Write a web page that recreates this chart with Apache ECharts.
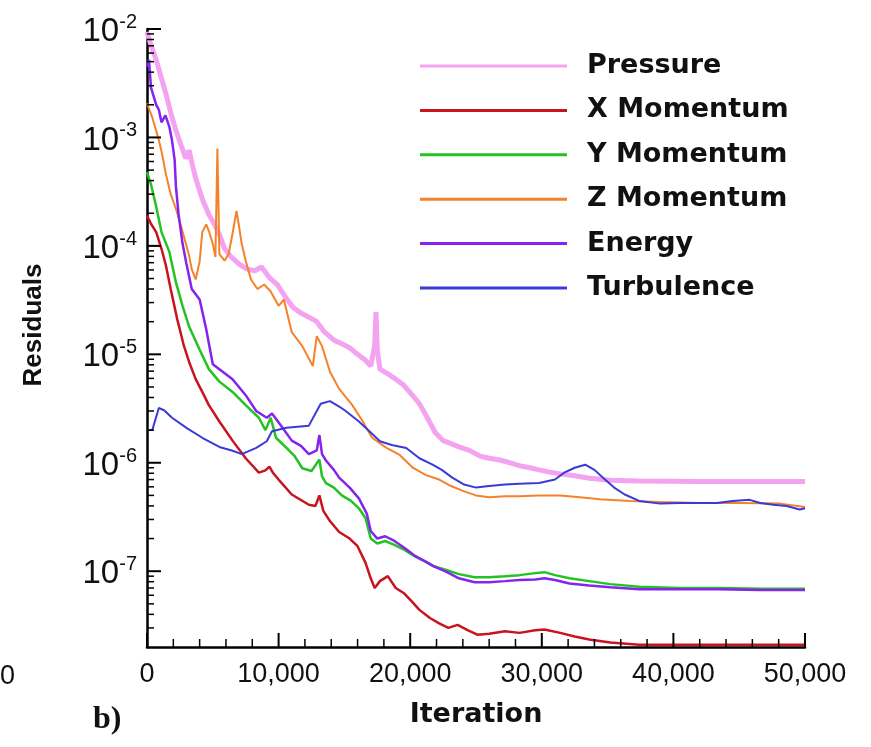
<!DOCTYPE html>
<html><head><meta charset="utf-8">
<script src="https://cdn.jsdelivr.net/npm/echarts@6/dist/echarts.min.js"></script>
<style>html,body{margin:0;padding:0;background:#fff;}#c{width:871px;height:747px;}</style>
</head><body><div id="c"></div>
<script>
const seriesNames = ['Pressure', 'X Momentum', 'Y Momentum', 'Z Momentum', 'Energy', 'Turbulence'];
const seriesColors = ['#f3a3ef', '#c8141e', '#22c322', '#f5822a', '#8424ee', '#3a3ad6'];

const pressure = [[0,9.4e-3],[300,7.1e-3],[700,5.2e-3],[1100,3.5e-3],[1450,2.5e-3],[1800,1.7e-3],[2200,1.16e-3],[2600,8.4e-4],[2950,6.4e-4],[3200,7.6e-4],[3450,5.6e-4],[3700,4.2e-4],[4200,2.7e-4],[4700,1.95e-4],[5100,1.6e-4],[5500,1.28e-4],[5900,9.4e-5],[6400,7.9e-5],[7000,6.8e-5],[7600,6.1e-5],[8200,5.9e-5],[8700,6.4e-5],[9300,5.1e-5],[9900,4.4e-5],[10500,3.4e-5],[11100,2.7e-5],[11700,2.4e-5],[12300,2.2e-5],[12900,2e-5],[13500,1.6e-5],[14200,1.35e-5],[14800,1.25e-5],[15400,1.15e-5],[16000,1e-5],[16600,8.8e-6],[17000,7.8e-6],[17300,1.2e-5],[17400,2.45e-5],[17500,1.1e-5],[17700,7.3e-6],[18300,6.6e-6],[18900,5.9e-6],[19500,5.2e-6],[20100,4.3e-6],[20700,3.5e-6],[21300,2.6e-6],[21900,1.9e-6],[22500,1.6e-6],[23100,1.5e-6],[23700,1.4e-6],[24500,1.3e-6],[25300,1.15e-6],[26000,1.1e-6],[26800,1.06e-6],[27600,1e-6],[28300,9.4e-7],[29100,9e-7],[29800,8.6e-7],[30600,8.2e-7],[31400,7.9e-7],[32500,7.6e-7],[33600,7.2e-7],[35200,6.9e-7],[37400,6.8e-7],[42000,6.7e-7],[46600,6.7e-7],[50000,6.7e-7]];

const xMomentum = [[0,1.9e-4],[300,1.6e-4],[700,1.34e-4],[1100,9.4e-5],[1450,6.5e-5],[1800,4e-5],[2300,2.1e-5],[2800,1.2e-5],[3200,8.5e-6],[3700,5.9e-6],[4200,4.5e-6],[4700,3.4e-6],[5500,2.4e-6],[6500,1.6e-6],[7500,1.1e-6],[8500,8.1e-7],[9000,8.5e-7],[9300,9.2e-7],[9600,8e-7],[10000,7e-7],[11000,5.1e-7],[12300,4.1e-7],[12800,4e-7],[13100,5e-7],[13400,3.6e-7],[13900,2.9e-7],[14600,2.3e-7],[15400,2e-7],[16000,1.7e-7],[16600,1.2e-7],[17000,8.6e-8],[17300,7e-8],[17700,8.1e-8],[18300,9e-8],[18900,7e-8],[19500,6.3e-8],[20100,5.3e-8],[20700,4.4e-8],[21500,3.7e-8],[22200,3.3e-8],[22900,3e-8],[23600,3.2e-8],[24400,2.85e-8],[25100,2.6e-8],[26000,2.65e-8],[27200,2.8e-8],[28300,2.7e-8],[29500,2.85e-8],[30200,2.9e-8],[31400,2.7e-8],[32500,2.5e-8],[33600,2.35e-8],[35200,2.2e-8],[37400,2.1e-8],[42000,2.1e-8],[46600,2.1e-8],[50000,2.1e-8]];

const yMomentum = [[0,4.8e-4],[300,3.7e-4],[700,2.3e-4],[1100,1.34e-4],[1700,8.8e-5],[2200,4.6e-5],[2700,2.8e-5],[3200,1.8e-5],[3500,1.5e-5],[4000,1.1e-5],[4700,7.3e-6],[5500,5.6e-6],[6500,4.5e-6],[7500,3.4e-6],[8500,2.6e-6],[9000,2e-6],[9400,2.6e-6],[9800,1.7e-6],[10600,1.37e-6],[11200,1.16e-6],[11800,8.9e-7],[12500,8.4e-7],[13100,1.07e-6],[13300,7.5e-7],[13600,6.5e-7],[14200,5.9e-7],[14800,5e-7],[15500,4.45e-7],[16100,3.8e-7],[16600,3.1e-7],[17000,2e-7],[17500,1.8e-7],[18100,1.9e-7],[18800,1.75e-7],[19600,1.56e-7],[20300,1.38e-7],[21100,1.24e-7],[21800,1.11e-7],[22800,1.02e-7],[23700,9.4e-8],[24900,8.8e-8],[26000,8.8e-8],[27200,9e-8],[28300,9.2e-8],[29500,9.6e-8],[30200,9.8e-8],[31000,9.2e-8],[32100,8.6e-8],[33600,8.1e-8],[35200,7.6e-8],[37400,7.2e-8],[40500,7e-8],[43500,7e-8],[46600,6.9e-8],[50000,6.9e-8]];

const zMomentum = [[0,2.06e-3],[400,1.53e-3],[700,1.15e-3],[900,9.4e-4],[1100,7.5e-4],[1450,4.5e-4],[1800,3e-4],[2200,2.2e-4],[2600,1.5e-4],[3000,1e-4],[3200,8.1e-5],[3400,6.1e-5],[3700,4.9e-5],[4000,7.2e-5],[4200,1.34e-4],[4500,1.58e-4],[4700,1.37e-4],[5000,1.04e-4],[5200,7.9e-5],[5350,7.9e-4],[5500,8.4e-5],[5900,7.3e-5],[6200,8.4e-5],[6500,1.3e-4],[6800,2.1e-4],[7000,1.5e-4],[7200,1.04e-4],[7500,7.3e-5],[7900,4.9e-5],[8400,4e-5],[8900,4.4e-5],[9400,3.8e-5],[10000,2.8e-5],[10400,3.2e-5],[11000,1.6e-5],[11800,1.19e-5],[12600,7.8e-6],[12900,1.47e-5],[13300,1.19e-5],[13900,6.9e-6],[14600,4.8e-6],[15600,3.4e-6],[16400,2.4e-6],[17100,1.7e-6],[18200,1.37e-6],[19200,1.18e-6],[20200,9e-7],[21200,7.7e-7],[22200,7e-7],[23100,6.1e-7],[24000,5.5e-7],[25000,5e-7],[26000,4.8e-7],[27200,4.9e-7],[28300,4.9e-7],[29800,5e-7],[31400,5e-7],[32900,4.8e-7],[34400,4.6e-7],[36700,4.45e-7],[39000,4.35e-7],[42000,4.26e-7],[45000,4.26e-7],[48100,4.2e-7],[50000,3.9e-7]];

const energy = [[0,4.5e-3],[150,5.2e-3],[300,2.9e-3],[700,2e-3],[900,1.8e-3],[1100,1.38e-3],[1400,1.6e-3],[1700,1.25e-3],[1900,9.4e-4],[2100,6.2e-4],[2200,3.5e-4],[2400,1.95e-4],[2700,1.05e-4],[3000,6.8e-5],[3400,4e-5],[4000,3.2e-5],[4500,1.7e-5],[5000,8.1e-6],[5500,7.3e-6],[6500,5.9e-6],[7500,4.2e-6],[8300,3e-6],[9100,2.6e-6],[9500,2.85e-6],[10300,2.1e-6],[11000,1.6e-6],[11700,1.43e-6],[12300,1.2e-6],[12900,1.3e-6],[13100,1.8e-6],[13300,1.2e-6],[13600,1.05e-6],[14200,8.6e-7],[14600,7.3e-7],[15400,5.9e-7],[16100,4.7e-7],[16700,3.4e-7],[17000,2.35e-7],[17500,2e-7],[18100,2.1e-7],[18800,1.9e-7],[19600,1.63e-7],[20300,1.4e-7],[21100,1.24e-7],[21800,1.11e-7],[22800,9.8e-8],[23700,8.6e-8],[24900,7.9e-8],[26000,7.9e-8],[27200,8.1e-8],[28300,8.3e-8],[29500,8.4e-8],[30200,8.6e-8],[31000,8.3e-8],[32100,7.7e-8],[33600,7.4e-8],[35200,7.1e-8],[37400,6.8e-8],[40500,6.8e-8],[43500,6.8e-8],[46600,6.7e-8],[50000,6.7e-8]];

const turbulence = [[0,2e-6],[400,2e-6],[900,3.2e-6],[1300,3.05e-6],[1900,2.6e-6],[3000,2.1e-6],[4200,1.7e-6],[5500,1.4e-6],[6500,1.29e-6],[7200,1.2e-6],[8300,1.37e-6],[9100,1.58e-6],[9500,1.95e-6],[10600,2.1e-6],[12300,2.2e-6],[12900,3e-6],[13200,3.5e-6],[13900,3.7e-6],[14600,3.3e-6],[15100,3e-6],[16100,2.4e-6],[16900,1.95e-6],[17700,1.58e-6],[18600,1.46e-6],[19700,1.37e-6],[20700,1.1e-6],[21700,9.6e-7],[22400,8.6e-7],[23200,7.3e-7],[24100,6.3e-7],[25000,5.9e-7],[26000,6.1e-7],[27200,6.3e-7],[28300,6.4e-7],[29800,6.5e-7],[31000,7e-7],[31700,8.1e-7],[32500,9e-7],[33300,9.6e-7],[34000,8.6e-7],[34800,7e-7],[35500,5.9e-7],[36300,5.1e-7],[37400,4.45e-7],[39000,4.2e-7],[40500,4.26e-7],[42000,4.26e-7],[43300,4.26e-7],[44500,4.45e-7],[45800,4.55e-7],[46600,4.26e-7],[47600,4.1e-7],[48600,4e-7],[49600,3.7e-7],[50000,3.8e-7]];

const yMajorTicks = [1e-7, 1e-6, 1e-5, 1e-4, 1e-3, 1e-2];
const yMinorTicks = [3e-8,4e-8,5e-8,6e-8,7e-8,8e-8,9e-8,
  2e-7,3e-7,4e-7,5e-7,6e-7,7e-7,8e-7,9e-7,
  2e-6,3e-6,4e-6,5e-6,6e-6,7e-6,8e-6,9e-6,
  2e-5,3e-5,4e-5,5e-5,6e-5,7e-5,8e-5,9e-5,
  2e-4,3e-4,4e-4,5e-4,6e-4,7e-4,8e-4,9e-4,
  2e-3,3e-3,4e-3,5e-3,6e-3,7e-3,8e-3,9e-3];
const xMajorTicks = [0, 10000, 20000, 30000, 40000, 50000];
const xMinorTicks = [2000,4000,6000,8000,12000,14000,16000,18000,22000,24000,26000,28000,
  32000,34000,36000,38000,42000,44000,46000,48000];

const Y_MIN = 2e-8, Y_MAX = 1e-2;
const allData = [pressure, xMomentum, yMomentum, zMomentum, energy, turbulence];
const widths = [5, 2.5, 2.5, 2, 2.5, 2];
const axisColor = '#000';

// tick marks placed through the axes' own scales (api.coord)
function tickSeries(values, isY, len, lw) {
  return {
    type: 'custom', silent: true, clip: false, z: 10,
    data: values.map(v => isY ? [0, v] : [v, Y_MIN]),
    encode: {x: 0, y: 1},
    renderItem: function (params, api) {
      const p = api.coord([api.value(0), api.value(1)]);
      const shape = isY ? {x1: p[0], y1: p[1], x2: p[0] + len, y2: p[1]}
                        : {x1: p[0], y1: p[1], x2: p[0], y2: p[1] - len};
      return {type: 'line', shape: shape, style: {stroke: axisColor, lineWidth: lw}};
    }
  };
}

const chart = echarts.init(document.getElementById('c'));
chart.setOption({
  animation: false,
  backgroundColor: '#fff',
  textStyle: {fontFamily: 'Liberation Sans', color: '#111'},
  grid: {left: 147, right: 66, top: 29, bottom: 100},
  legend: {
    orient: 'vertical', left: 415, top: 46,
    icon: 'rect', itemWidth: 147, itemHeight: 3, itemGap: 14.4,
    data: seriesNames,
    textStyle: {fontSize: 27, fontWeight: 'bold', fontFamily: 'DejaVu Sans', color: '#111', lineHeight: 30, padding: [0, 0, 0, 15]}
  },
  xAxis: {
    type: 'value', min: 0, max: 50000, interval: 10000,
    axisLine: {show: true, lineStyle: {color: axisColor, width: 2.5}},
    axisTick: {show: false},
    splitLine: {show: false},
    axisLabel: {fontSize: 27, color: '#111', margin: 14,
      formatter: v => xMajorTicks.indexOf(v) >= 0 ? v.toLocaleString('en-US') : ''},
    name: 'Iteration', nameLocation: 'middle', nameGap: 54,
    nameTextStyle: {fontSize: 27, fontWeight: 'bold', fontFamily: 'DejaVu Sans', color: '#111'}
  },
  yAxis: {
    type: 'log', min: Y_MIN, max: Y_MAX, position: 'left',
    axisLine: {show: true, lineStyle: {color: axisColor, width: 2.5}},
    axisTick: {show: false},
    splitLine: {show: false},
    axisLabel: {
      customValues: yMajorTicks, margin: 10,
      formatter: v => '{b|10}{s|' + Math.round(Math.log10(v)) + '}',
      rich: {
        b: {fontSize: 33, lineHeight: 33, padding: [6, 0, 0, 0], color: '#111', fontFamily: 'Liberation Sans'},
        s: {fontSize: 20, lineHeight: 20, verticalAlign: 'top', color: '#111', fontFamily: 'Liberation Sans'}
      }
    },
    name: 'Residuals', nameLocation: 'middle', nameGap: 100,
    nameTextStyle: {fontSize: 26, fontWeight: 'bold', color: '#111', fontFamily: 'Liberation Sans', padding: [0, 0, 0, 26]}
  },
  series: seriesNames.map((n, i) => ({
    name: n, type: 'line', data: allData[i],
    symbol: 'none', showSymbol: false,
    lineStyle: {color: seriesColors[i], width: widths[i]},
    itemStyle: {color: seriesColors[i]}
  })).concat([
    tickSeries(yMajorTicks, true, 14, 2),
    tickSeries(yMinorTicks, true, 7, 1.5),
    tickSeries(xMajorTicks, false, 14, 2),
    tickSeries(xMinorTicks, false, 8, 1.5)
  ]),
  graphic: [
    {type: 'text', left: 0, top: 663, style: {text: '0', fontSize: 27, fontFamily: 'Liberation Sans', fill: '#111'}},
    {type: 'text', left: 93, top: 704, style: {text: 'b)', fontSize: 32, fontWeight: 'bold', fontFamily: 'Liberation Serif', fill: '#111'}}
  ]
});
</script>
</body></html>
